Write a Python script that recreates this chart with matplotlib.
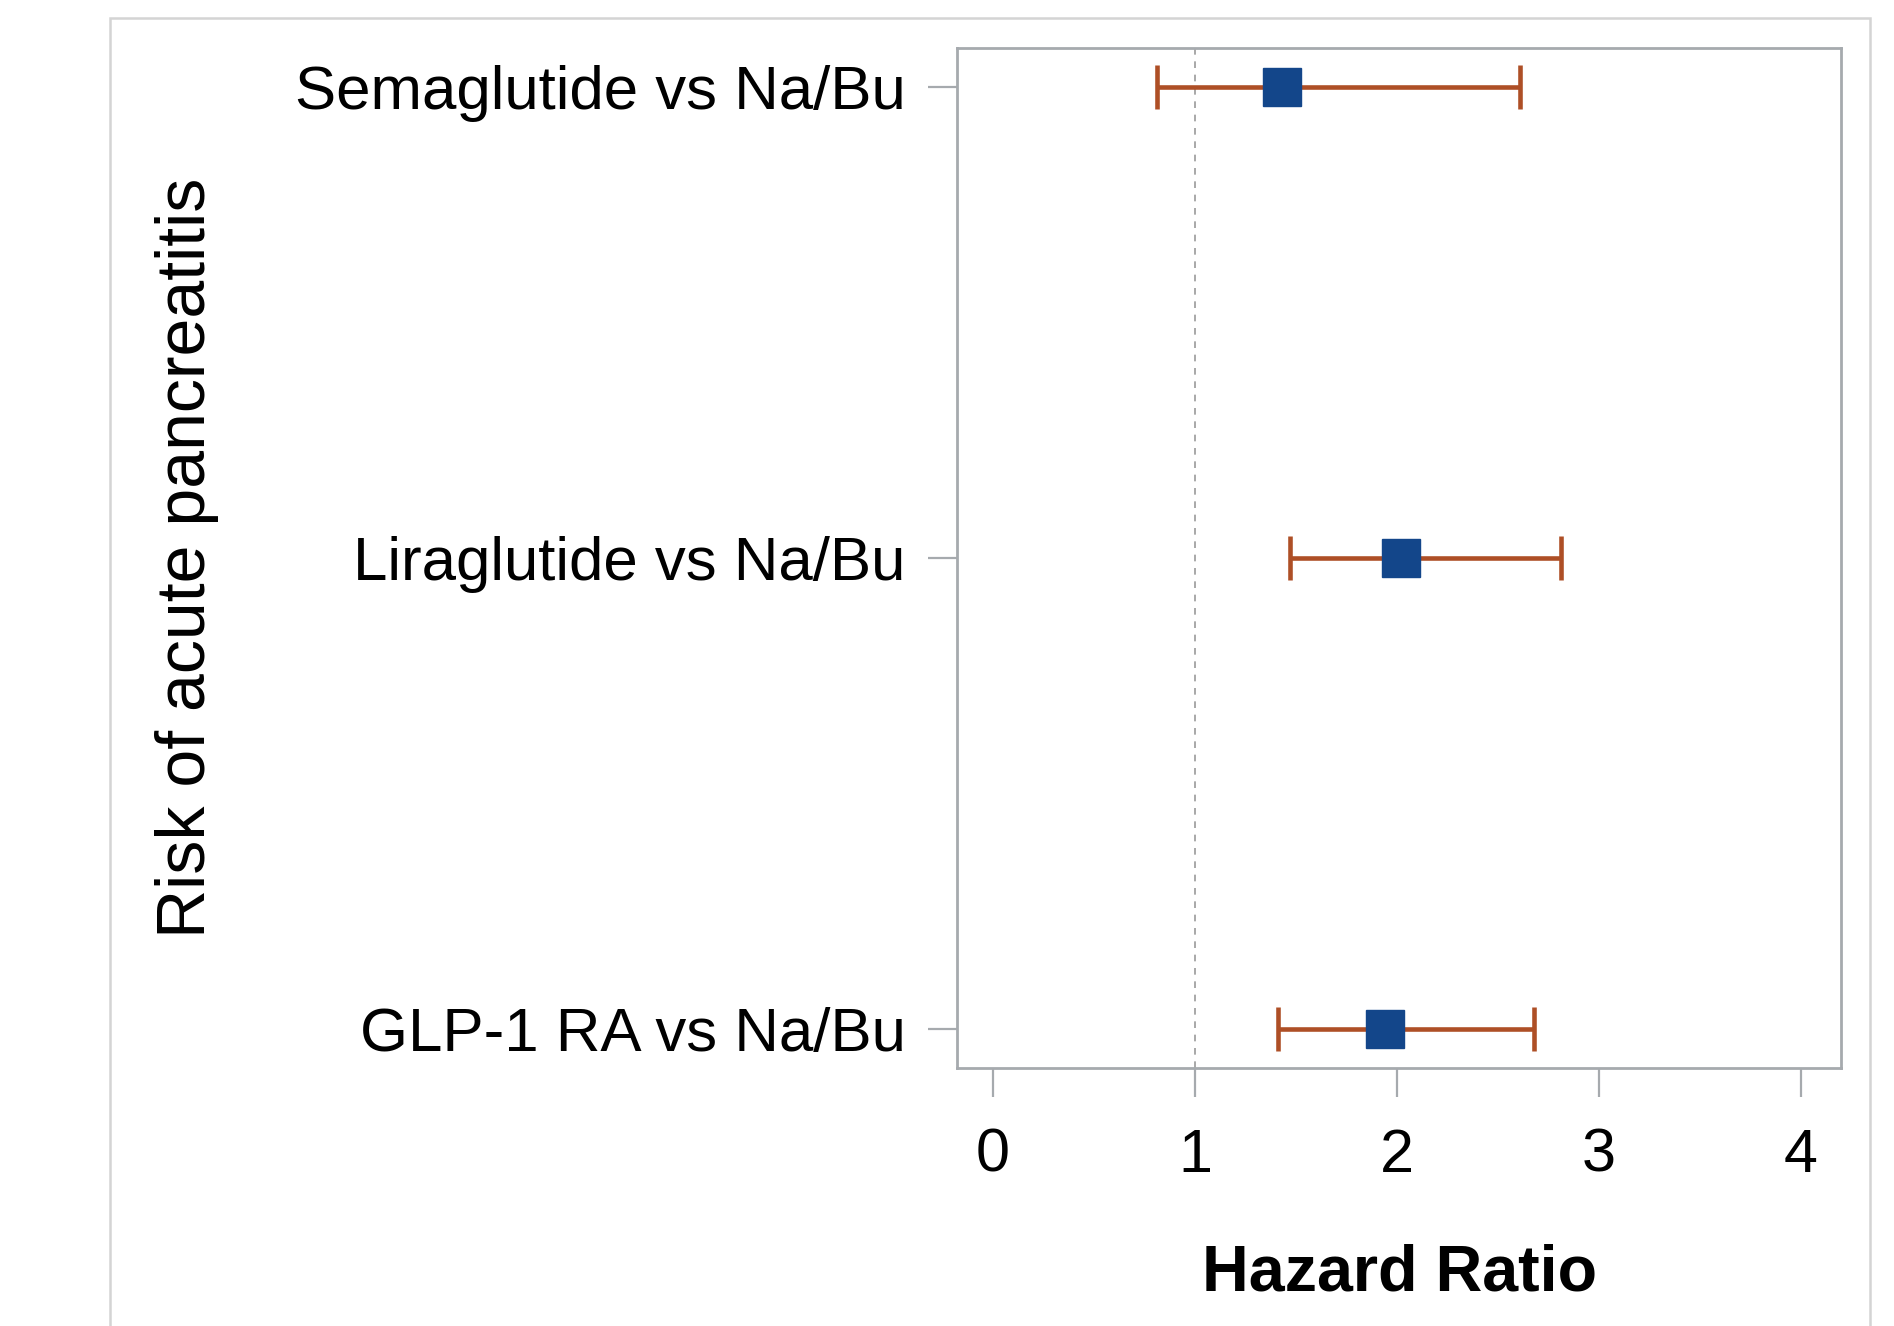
import matplotlib
matplotlib.use("Agg")
import matplotlib.pyplot as plt
from matplotlib.patches import Rectangle

categories = ["Semaglutide vs Na/Bu", "Liraglutide vs Na/Bu", "GLP-1 RA vs Na/Bu"]
hr = [1.43, 2.02, 1.94]
ci_low = [0.81, 1.47, 1.41]
ci_high = [2.61, 2.81, 2.68]
xticks = [0, 1, 2, 3, 4]

plt.rcParams['font.family'] = ['Liberation Sans', 'DejaVu Sans']

W, H = 1894, 1326
fig = plt.figure(figsize=(W / 100, H / 100), dpi=100)
fig.patch.set_facecolor('white')

# outer light border
fig.add_artist(Rectangle((110 / W, -0.05), (1870 - 110) / W, 1.05 - 18 / H,
                         transform=fig.transFigure, fill=False,
                         edgecolor='#d4d4d4', linewidth=1.8))

ax = fig.add_axes([957 / W, (H - 1068) / H, (1841 - 957) / W, (1068 - 48) / H])

y = list(range(len(categories)))
err_lo = [h - l for h, l in zip(hr, ci_low)]
err_hi = [u - h for h, u in zip(hr, ci_high)]

ax.axvline(1, color='#9a9a9a', linestyle=(0, (4, 4)), linewidth=1.2, zorder=1)
ax.errorbar(hr, y, xerr=[err_lo, err_hi], fmt='none', ecolor='#AE4F26',
            elinewidth=3.3, capsize=16, capthick=3.3, zorder=2)
ax.plot(hr, y, linestyle='none', marker='s', markersize=28,
        color='#13468A', markeredgecolor='#13468A', zorder=3)

ax.set_xlim(-0.178, 4.198)
ax.set_ylim(2.083, -0.083)
ax.set_yticks(y)
ax.set_yticklabels(categories, fontsize=44.5)
ax.set_xticks(xticks)
ax.set_xticklabels([str(t) for t in xticks], fontsize=44)

for s in ax.spines.values():
    s.set_color('#a6aaae')
    s.set_linewidth(2)

ax.tick_params(axis='both', colors='#a6aaae', labelcolor='black',
               length=21, width=1.6)
ax.tick_params(axis='y', pad=16)
ax.tick_params(axis='x', pad=22)

ax.set_xlabel('Hazard Ratio', fontsize=46.5, fontweight='bold', labelpad=42)
fig.text(187 / W, 1 - 558 / H, 'Risk of acute pancreatitis', rotation=90,
         fontsize=49, ha='center', va='center')

fig.savefig('out.png', dpi=100, facecolor='white')
